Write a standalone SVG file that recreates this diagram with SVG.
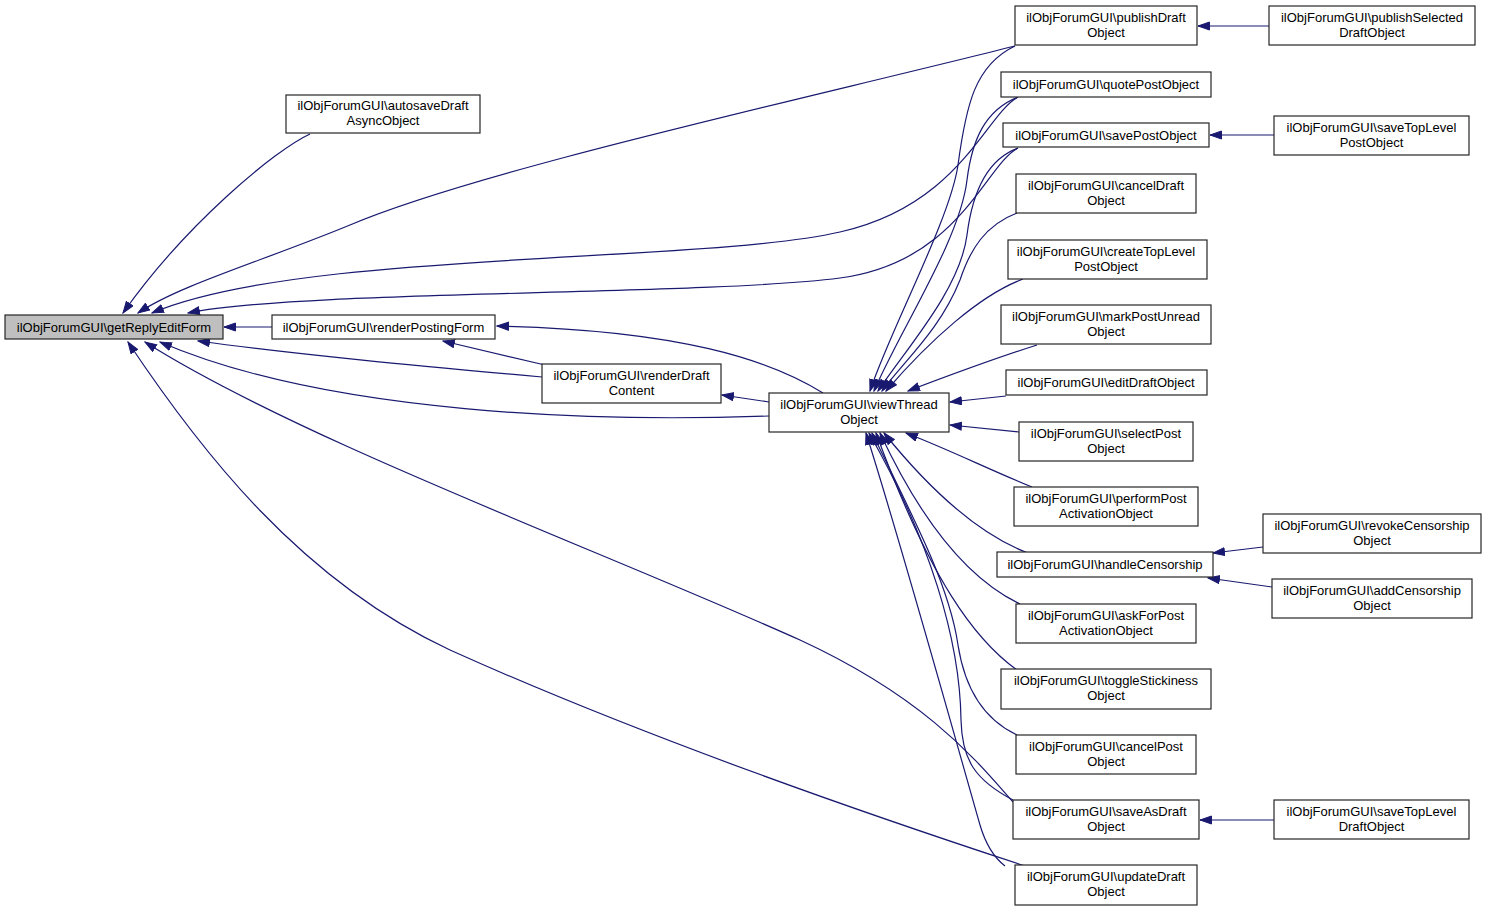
<svg xmlns="http://www.w3.org/2000/svg" width="1487" height="912" viewBox="0 0 1487 912">
<style>
.n rect{fill:#ffffff;stroke:#262626;stroke-width:1.2}
.n.sel rect{fill:#bfbfbf}
.n text{font-family:"Liberation Sans",Arial,sans-serif;font-size:13px;fill:#000000;text-anchor:middle}
.e path{fill:none;stroke:#191970;stroke-width:1.2;marker-end:url(#ah)}
</style>
<defs>
<marker id="ah" markerUnits="userSpaceOnUse" markerWidth="13" markerHeight="10" refX="12" refY="4.5" orient="auto">
<path d="M0.5,0.5 L12,4.5 L0.5,8.5 z" fill="#191970" stroke="#191970" stroke-width="1"/>
</marker>
</defs>
<rect width="1487" height="912" fill="#ffffff"/>
<g id="connectors" class="e">
<path d="M310,134 C275,150 185,225 123,313"/>
<path d="M1015,46 C800,100 480,170 350,225 C260,262 180,285 138,313"/>
<path d="M1018,97 C985,115 960,205 840,232 C700,264 300,250 152,313"/>
<path d="M1018,148 C985,165 960,262 840,278 C700,296 300,290 188,313"/>
<path d="M272,327 L224,327"/>
<path d="M542,377 C420,366 300,355 198,341"/>
<path d="M769,416 C600,422 330,415 160,342"/>
<path d="M1013,802 C980,765 930,700 800,640 C600,550 300,440 145,342"/>
<path d="M1025,866 C900,825 650,740 450,650 C300,580 200,450 128,342"/>
<path d="M545,365 L443,341"/>
<path d="M823,393 C770,360 680,330 497,326"/>
<path d="M769,402 L722,395"/>
<path d="M1015,46 C975,65 966,105 958,165 C950,220 890,330 870,391"/>
<path d="M1018,97 C985,110 972,140 967,180 C960,240 900,330 874,391"/>
<path d="M1018,148 C985,160 972,195 967,235 C960,290 905,350 878,391"/>
<path d="M1017,213 C985,225 970,250 960,280 C940,330 905,360 882,391"/>
<path d="M1023,279 C980,295 930,340 886,391"/>
<path d="M1037,345 C990,360 950,375 908,391"/>
<path d="M1006,396 L950,402"/>
<path d="M1019,432 L950,425"/>
<path d="M1032,487 C990,470 950,450 906,433"/>
<path d="M1028,553 C980,535 930,490 884,433"/>
<path d="M1020,604 C980,585 930,540 880,433"/>
<path d="M1017,670 C975,640 930,580 876,433"/>
<path d="M1017,735 C985,720 965,690 958,645 C950,590 920,530 872,433"/>
<path d="M1013,800 C975,780 962,760 961,720 C960,640 930,540 869,433"/>
<path d="M1005,866 C992,856 985,842 980,825 C950,720 900,540 866,433"/>
<path d="M1269,26 L1198,26"/>
<path d="M1274,135 L1210,135"/>
<path d="M1263,547 L1213,553"/>
<path d="M1272,587 L1208,578"/>
<path d="M1274,820 L1200,820"/>
</g>
<g id="getReplyEditForm" class="n sel"><rect x="5" y="315" width="218" height="24"/><text x="114" y="331.5">ilObjForumGUI\getReplyEditForm</text></g>
<g id="autosaveDraftAsyncObject" class="n"><rect x="286" y="95" width="194" height="38"/><text x="383" y="110">ilObjForumGUI\autosaveDraft</text><text x="383" y="125">AsyncObject</text></g>
<g id="renderPostingForm" class="n"><rect x="272" y="315" width="223" height="24"/><text x="383.5" y="331.5">ilObjForumGUI\renderPostingForm</text></g>
<g id="renderDraftContent" class="n"><rect x="542" y="364" width="179" height="39"/><text x="631.5" y="379.5">ilObjForumGUI\renderDraft</text><text x="631.5" y="394.5">Content</text></g>
<g id="viewThreadObject" class="n"><rect x="769" y="393" width="180" height="39"/><text x="859" y="408.5">ilObjForumGUI\viewThread</text><text x="859" y="423.5">Object</text></g>
<g id="publishDraftObject" class="n"><rect x="1015" y="6" width="182" height="39"/><text x="1106" y="21.5">ilObjForumGUI\publishDraft</text><text x="1106" y="36.5">Object</text></g>
<g id="quotePostObject" class="n"><rect x="1001" y="72" width="210" height="25"/><text x="1106" y="88.5">ilObjForumGUI\quotePostObject</text></g>
<g id="savePostObject" class="n"><rect x="1003" y="123" width="206" height="24"/><text x="1106" y="139.5">ilObjForumGUI\savePostObject</text></g>
<g id="cancelDraftObject" class="n"><rect x="1016" y="174" width="180" height="39"/><text x="1106" y="189.5">ilObjForumGUI\cancelDraft</text><text x="1106" y="204.5">Object</text></g>
<g id="createTopLevelPostObject" class="n"><rect x="1008" y="240" width="199" height="39"/><text x="1106" y="255.5">ilObjForumGUI\createTopLevel</text><text x="1106" y="270.5">PostObject</text></g>
<g id="markPostUnreadObject" class="n"><rect x="1001" y="305" width="210" height="39"/><text x="1106" y="320.5">ilObjForumGUI\markPostUnread</text><text x="1106" y="335.5">Object</text></g>
<g id="editDraftObject" class="n"><rect x="1006" y="370" width="201" height="25"/><text x="1106" y="386.5">ilObjForumGUI\editDraftObject</text></g>
<g id="selectPostObject" class="n"><rect x="1019" y="422" width="174" height="39"/><text x="1106" y="437.5">ilObjForumGUI\selectPost</text><text x="1106" y="452.5">Object</text></g>
<g id="performPostActivationObject" class="n"><rect x="1014" y="487" width="184" height="39"/><text x="1106" y="502.5">ilObjForumGUI\performPost</text><text x="1106" y="517.5">ActivationObject</text></g>
<g id="handleCensorship" class="n"><rect x="997" y="552" width="216" height="25"/><text x="1105" y="568.5">ilObjForumGUI\handleCensorship</text></g>
<g id="askForPostActivationObject" class="n"><rect x="1016" y="604" width="180" height="39"/><text x="1106" y="619.5">ilObjForumGUI\askForPost</text><text x="1106" y="634.5">ActivationObject</text></g>
<g id="toggleStickinessObject" class="n"><rect x="1001" y="669" width="210" height="40"/><text x="1106" y="685">ilObjForumGUI\toggleStickiness</text><text x="1106" y="700">Object</text></g>
<g id="cancelPostObject" class="n"><rect x="1016" y="735" width="180" height="39"/><text x="1106" y="750.5">ilObjForumGUI\cancelPost</text><text x="1106" y="765.5">Object</text></g>
<g id="saveAsDraftObject" class="n"><rect x="1013" y="800" width="186" height="39"/><text x="1106" y="815.5">ilObjForumGUI\saveAsDraft</text><text x="1106" y="830.5">Object</text></g>
<g id="updateDraftObject" class="n"><rect x="1015" y="865" width="182" height="40"/><text x="1106" y="881">ilObjForumGUI\updateDraft</text><text x="1106" y="896">Object</text></g>
<g id="publishSelectedDraftObject" class="n"><rect x="1269" y="6" width="206" height="39"/><text x="1372" y="21.5">ilObjForumGUI\publishSelected</text><text x="1372" y="36.5">DraftObject</text></g>
<g id="saveTopLevelPostObject" class="n"><rect x="1274" y="116" width="195" height="39"/><text x="1371.5" y="131.5">ilObjForumGUI\saveTopLevel</text><text x="1371.5" y="146.5">PostObject</text></g>
<g id="revokeCensorshipObject" class="n"><rect x="1263" y="514" width="218" height="39"/><text x="1372" y="529.5">ilObjForumGUI\revokeCensorship</text><text x="1372" y="544.5">Object</text></g>
<g id="addCensorshipObject" class="n"><rect x="1272" y="579" width="200" height="39"/><text x="1372" y="594.5">ilObjForumGUI\addCensorship</text><text x="1372" y="609.5">Object</text></g>
<g id="saveTopLevelDraftObject" class="n"><rect x="1274" y="800" width="195" height="39"/><text x="1371.5" y="815.5">ilObjForumGUI\saveTopLevel</text><text x="1371.5" y="830.5">DraftObject</text></g>
</svg>
